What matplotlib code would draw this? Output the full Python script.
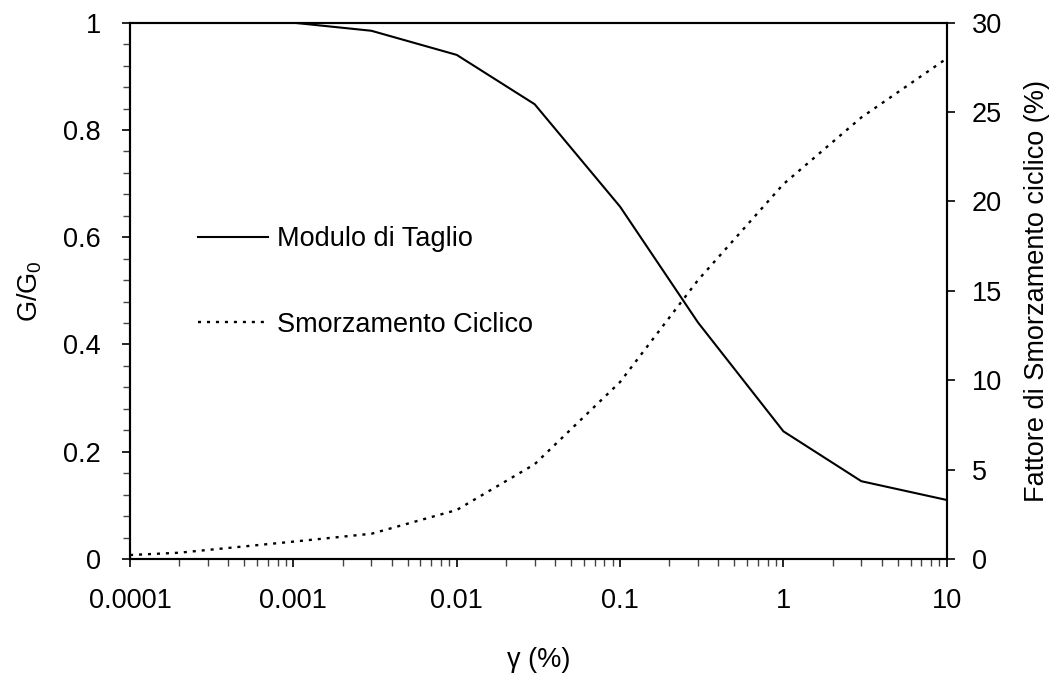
import matplotlib
matplotlib.use("Agg")
import matplotlib.pyplot as plt
from matplotlib.ticker import FixedLocator, LogLocator, FuncFormatter, MultipleLocator, NullFormatter

plt.rcParams['font.family'] = ['Liberation Sans', 'DejaVu Sans']
plt.rcParams['mathtext.fontset'] = 'custom'
plt.rcParams['mathtext.rm'] = 'Liberation Sans'

# deformazione tangenziale (%)
gamma_g = [1e-4, 3e-4, 1e-3, 3e-3, 1e-2, 3e-2, 0.1, 0.3, 1, 3, 10]
g_g0 = [1.0, 1.0, 1.0, 0.985, 0.94, 0.848, 0.657, 0.441, 0.238, 0.145, 0.11]

gamma_d = [1e-4, 2e-4, 1e-3, 3e-3, 1e-2, 3e-2, 0.1, 0.3, 1, 3, 10]
damping = [0.22, 0.35, 0.97, 1.41, 2.74, 5.3, 9.9, 15.6, 20.97, 24.7, 28.0]

x_ticks = [1e-4, 1e-3, 1e-2, 0.1, 1, 10]

fs = 19.5
fig = plt.figure(figsize=(10.59, 6.82), dpi=100)
ax = fig.add_axes([0.1228, 0.1804, 0.894 - 0.1228, 0.9667 - 0.1804])
ax2 = ax.twinx()

l1, = ax.plot(gamma_g, g_g0, color='black', lw=1.5, label='Modulo di Taglio')
l2, = ax2.plot(gamma_d, damping, color='black', lw=1.7, linestyle=(0, (1.3, 2.5)),
               label='Smorzamento Ciclico')

ax.set_xscale('log')
ax.set_xlim(1e-4, 10)
ax.set_ylim(0, 1)
ax2.set_ylim(0, 30)

ax.xaxis.set_major_locator(FixedLocator(x_ticks))
ax.xaxis.set_minor_locator(LogLocator(base=10, subs=range(2, 10), numticks=20))
ax.xaxis.set_major_formatter(FuncFormatter(lambda v, p: '%g' % v))
ax.xaxis.set_minor_formatter(NullFormatter())

ax.yaxis.set_major_locator(MultipleLocator(0.2))
ax.yaxis.set_minor_locator(MultipleLocator(0.04))
ax.yaxis.set_major_formatter(FuncFormatter(lambda v, p: '%g' % round(v, 2)))
ax2.yaxis.set_major_locator(MultipleLocator(5))

for a in (ax, ax2):
    for s in a.spines.values():
        s.set_linewidth(1.5)
ax.tick_params(which='major', direction='out', length=6, width=1.2, labelsize=fs, pad=15)
ax.tick_params(which='minor', direction='out', length=5, width=1.0, color='#444444')
ax.tick_params(axis='x', which='major', pad=15)
ax2.tick_params(which='major', direction='out', length=6, width=1.2, labelsize=fs, pad=12)

ax.set_xlabel('γ (%)', fontsize=fs, labelpad=24)
ax.set_ylabel(r'G/G$_\mathrm{0}$', fontsize=fs, labelpad=14)
ax2.set_ylabel('Fattore di Smorzamento ciclico (%)', fontsize=fs, labelpad=16)

fig.legend(handles=[l1, l2], loc='upper left', bbox_to_anchor=(198 / 1059, 1 - 226 / 682),
           frameon=False, fontsize=fs, handlelength=2.6, handletextpad=0.3,
           labelspacing=2.2, borderpad=0, borderaxespad=0)

fig.savefig('out.png', dpi=100)
